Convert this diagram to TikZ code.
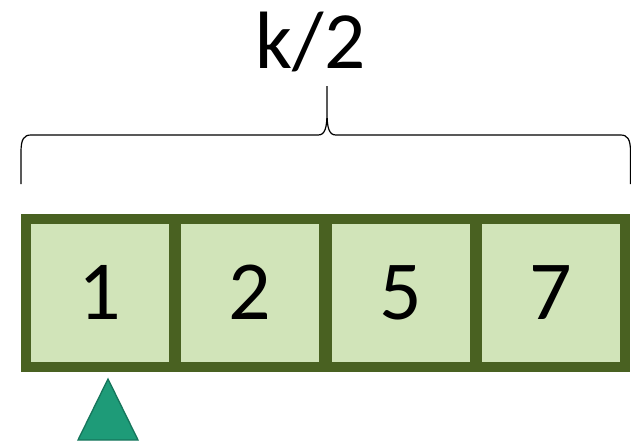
\documentclass[tikz,border=0pt]{standalone}
\usepackage{fontspec}
\setmainfont{Carlito}
\usepackage{tikz}
\usetikzlibrary{calc,positioning}
\definecolor{cellfill}{RGB}{209,228,185}
\definecolor{celledge}{RGB}{73,97,33}
\definecolor{ptrfill}{RGB}{30,155,120}
\definecolor{ptredge}{RGB}{22,118,92}

\begin{document}
\begin{tikzpicture}[x=0.75pt, y=-0.75pt,
  cell/.style={draw=celledge, fill=cellfill, line width=7.5pt, outer sep=0pt,
    minimum width=111pt, minimum height=111pt, inner sep=0pt,
    font=\fontsize{63}{70}\selectfont}]
  \useasboundingbox (0,0) rectangle (631,443);

  % Draw cells
  \foreach \v [count=\i] in {1,2,5,7} {
    \node[cell] (c\i) at ({99.5+150.5*(\i-1)}, 292.7) {\v};
  }

  % Brace over the cells
  \coordinate (bl) at (21,184);
  \coordinate (br) at (630.5,184);
  \coordinate (tip) at (327,86);
  \draw[line width=0.9pt]
    (bl) -- (21,152) .. controls (21,139) and (24,135) .. (31,135)
    -- (318,135) .. controls (325,135) and (327,128) .. (327,112) -- (tip)
    -- (327,112) .. controls (327,128) and (329,135) .. (336,135)
    -- (620.5,135) .. controls (627.5,135) and (630.5,139) .. (630.5,152) -- (br);
  \node[anchor=base, font=\fontsize{61}{70}\selectfont] (half) at (310.5,68) {k/2};

  % Pointer
  \filldraw[fill=ptrfill, draw=ptredge, line width=1pt, line join=miter]
    (78,440) -- (108,379) -- (138,440) -- cycle;
\end{tikzpicture}
\end{document}
